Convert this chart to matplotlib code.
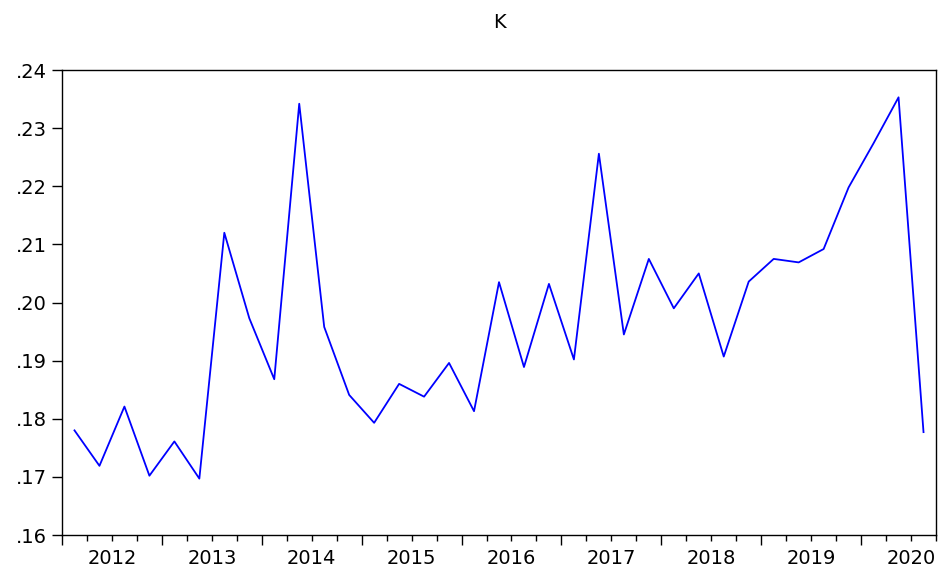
import matplotlib
matplotlib.use("Agg")
import matplotlib.pyplot as plt
import numpy as np

plt.rcParams['font.family'] = ['DejaVu Sans']

# quarterly series, 2012Q1 .. 2020Q3
k_values = [0.1780, 0.1719, 0.1821, 0.1702, 0.1761, 0.1697, 0.2120, 0.1973,
            0.1868, 0.2342, 0.1958, 0.1841, 0.1793, 0.1860, 0.1838, 0.1896,
            0.1813, 0.2035, 0.1889, 0.2032, 0.1902, 0.2256, 0.1945, 0.2075,
            0.1990, 0.2050, 0.1907, 0.2036, 0.2075, 0.2069, 0.2092, 0.2198,
            0.2274, 0.2353, 0.1777]
years = ['2012', '2013', '2014', '2015', '2016', '2017', '2018', '2019', '2020']
y_ticks = [0.16, 0.17, 0.18, 0.19, 0.20, 0.21, 0.22, 0.23, 0.24]

n = len(k_values)
x = np.arange(n) + 0.5  # points sit in the middle of each quarter

fig = plt.figure(figsize=(9.39, 5.72), dpi=100)
ax = fig.add_axes([62 / 939, 1 - 535 / 572, (936 - 62) / 939, (535 - 70) / 572])

ax.plot(x, k_values, color='#0000ff', lw=1.3)

ax.set_xlim(0, n)
ax.set_ylim(0.16, 0.24)

# y axis labels like ".24"
ax.set_yticks(y_ticks)
ax.set_yticklabels([f"{v:.2f}".lstrip('0') for v in y_ticks])
ax.tick_params(axis='y', direction='out', length=7, width=1, labelsize=14, pad=4)

# year boundaries long ticks, quarter boundaries short ticks
year_starts = np.arange(0, n, 4)
ax.set_xticks(year_starts)
ax.set_xticklabels([''] * len(year_starts))
ax.set_xticks([q for q in range(n + 1) if q % 4 != 0], minor=True)
ax.tick_params(axis='x', which='major', direction='out', length=7, width=1)
ax.tick_params(axis='x', which='minor', direction='out', length=4, width=1)

# year labels centred on each year span
sec = ax.secondary_xaxis('bottom')
sec.set_xticks(year_starts + 2)
sec.set_xticklabels(years)
sec.tick_params(length=0, labelsize=14, pad=10)
sec.spines['bottom'].set_visible(False)

for s in ax.spines.values():
    s.set_linewidth(1)

ax.set_title('K', fontsize=14, pad=30)

fig.savefig('out.png', dpi=100)
